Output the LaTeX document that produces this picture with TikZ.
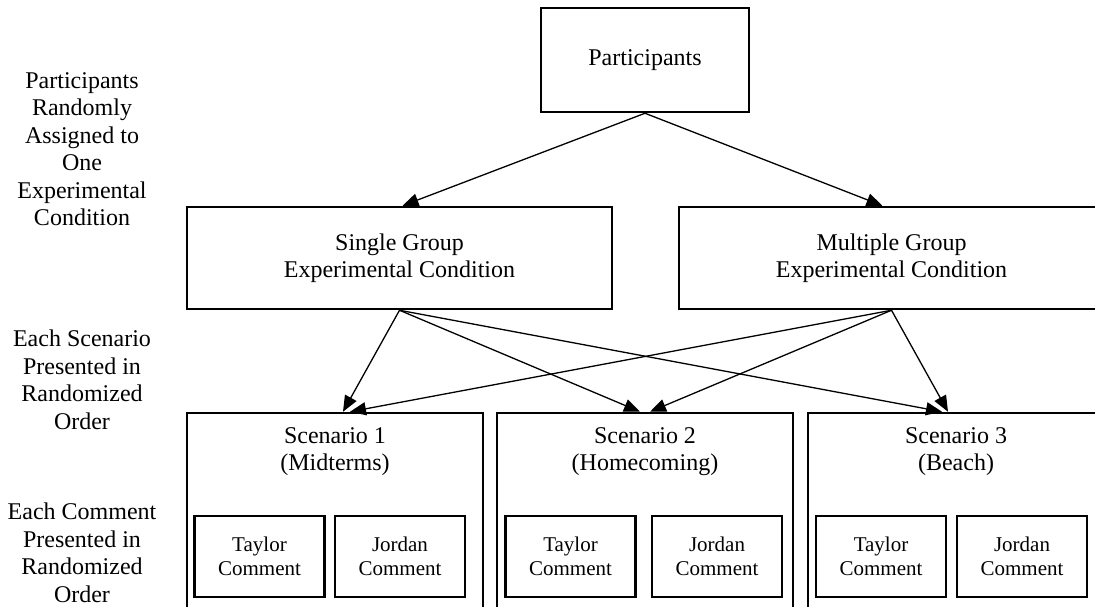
\documentclass[tikz,border=0pt]{standalone}
\usepackage{fontspec}
\setmainfont{Liberation Serif}
\usetikzlibrary{arrows.meta}

\tikzset{every picture/.style={line width=0.75pt}}
\tikzset{
  box/.style={draw, line width=2.5pt, rectangle, inner sep=0pt, align=center, font=\fontsize{24}{27.5}\selectfont},
  cbox/.style={draw, line width=2.3pt, rectangle, inner sep=0pt, align=center, minimum width=130pt, minimum height=81pt, font=\fontsize{21}{24}\selectfont},
  txt/.style={inner sep=0pt, align=center, font=\fontsize{24}{27.5}\selectfont},
  link/.style={line width=1.3pt, -{Triangle[length=16pt,width=13pt]}}
}

\begin{document}
\begin{tikzpicture}[x=1pt,y=1pt,yscale=-1,xscale=1]
\useasboundingbox (0,0) rectangle (1095,607);

%Shape: Rectangle [participants]
\node[box, minimum width=208pt, minimum height=104pt] (part) at (645,60) {Participants};
%Shape: Rectangle [conditions]
\node[box, minimum width=425pt, minimum height=102pt] (single) at (399.5,258) {Single Group\\Experimental Condition};
\node[box, minimum width=425pt, minimum height=102pt] (multi) at (891.5,258) {Multiple Group\\Experimental Condition};

%Shape: Rectangle [scenarios]
\node[box, minimum width=296pt, minimum height=220pt] (scen1) at (335,523) {};
\node[box, minimum width=296pt, minimum height=220pt] (scen2) at (645,523) {};
\node[box, minimum width=296pt, minimum height=220pt] (scen3) at (956,523) {};

% Text Node
\node[txt] (scen1title) at (335,451.5) {Scenario 1\\(Midterms)};
% Text Node
\node[txt] (scen2title) at (645,451.5) {Scenario 2\\(Homecoming)};
% Text Node
\node[txt] (scen3title) at (956,451.5) {Scenario 3\\(Beach)};

%Shape: Rectangle [comments]
\node[cbox] (taylor1) at (259.5,556.5) {Taylor\\Comment};
\node[cbox] (jordan1) at (400,556.5) {Jordan\\Comment};
\node[cbox] (taylor2) at (570.5,556.5) {Taylor\\Comment};
\node[cbox] (jordan2) at (717,556.5) {Jordan\\Comment};
\node[cbox] (taylor3) at (881,556.5) {Taylor\\Comment};
\node[cbox] (jordan3) at (1022,556.5) {Jordan\\Comment};

% Text Node
\node[txt] (assignlabel) at (82,149) {Participants\\Randomly\\Assigned to\\One\\Experimental\\Condition};
% Text Node
\node[txt] (scenlabel) at (82,380) {Each Scenario\\Presented in\\Randomized\\Order};
% Text Node
\node[txt] (commentlabel) at (82,553) {Each Comment\\Presented in\\Randomized\\Order};

%Straight Lines
\draw[link] (part.south) -- ([xshift=3pt]single.north);
\draw[link] (part.south) -- ([xshift=-9pt]multi.north);

%Straight Lines
\draw[link] (single.south) -- ([xshift=8pt]scen1.north);
\draw[link] (single.south) -- ([xshift=-5pt]scen2.north);
\draw[link] (single.south) -- ([xshift=-14pt]scen3.north);
%Straight Lines
\draw[link] (multi.south) -- ([xshift=15pt]scen1.north);
\draw[link] (multi.south) -- ([xshift=5pt]scen2.north);
\draw[link] (multi.south) -- ([xshift=-8pt]scen3.north);

\end{tikzpicture}
\end{document}
